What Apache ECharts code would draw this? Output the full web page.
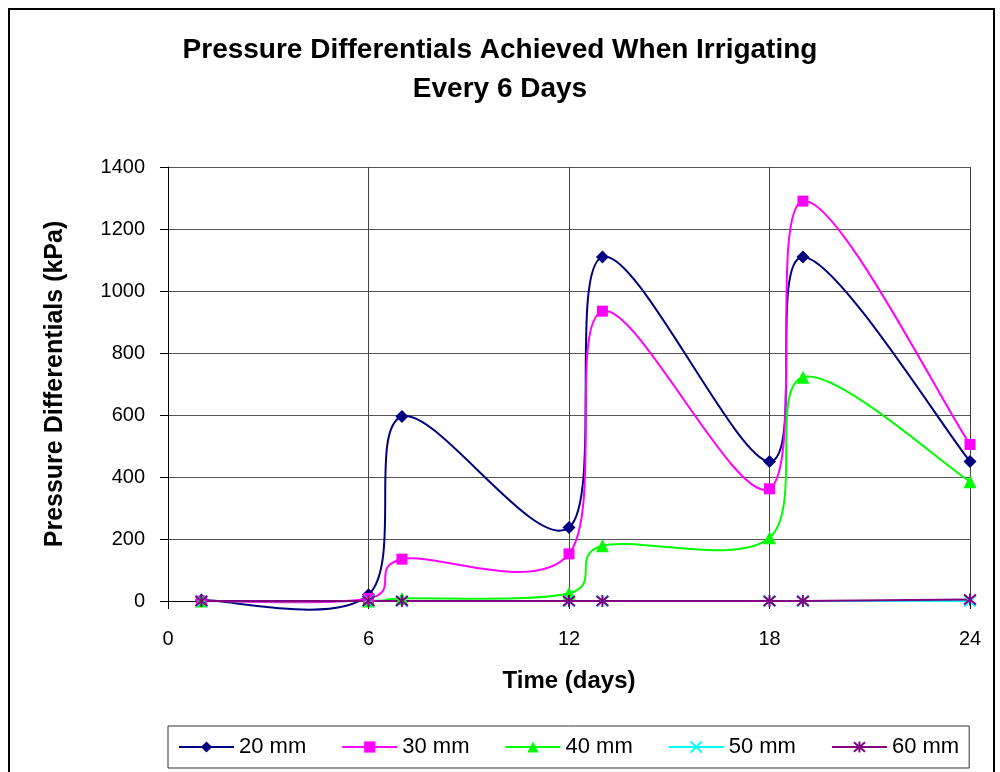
<!DOCTYPE html>
<html>
<head>
<meta charset="utf-8">
<script src="https://cdn.jsdelivr.net/npm/echarts@6/dist/echarts.min.js"></script>
<style>
    html, body { margin: 0; padding: 0; background: #fff; }
    #chart { width: 1000px; height: 772px; }
</style>
</head>
<body>
<div id="chart"></div>
<script>
// days at which the readings were taken
const days = [1, 6, 7, 12, 13, 18, 19, 24];

const seriesNames = ['20 mm', '30 mm', '40 mm', '50 mm', '60 mm'];
const values20 = [3, 20, 595, 237, 1110, 450, 1110, 450];
const values30 = [0, 8, 135, 152, 935, 362, 1290, 505];
const values40 = [0, 0, 8, 25, 178, 204, 722, 385];
const values50 = [0, 0, 0, 0, 0, 0, 0, 0];
const values60 = [0, 0, 0, 0, 0, 0, 0, 5];

const xTicks = { min: 0, max: 24, interval: 6 };
const yTicks = { min: 0, max: 1400, interval: 200 };

const colors = ['#000080', '#ff00ff', '#00ff00', '#00ffff', '#800080'];
const symbols = [
    'diamond',
    'rect',
    'triangle',
    'path://M0,0L10,10M10,0L0,10',
    'path://M0,0L10,10M10,0L0,10M5,-1L5,11'
];
const symbolSizes = [13, 11, 13, 11, 12];

const FONT = 'Liberation Sans, Arial, sans-serif';

function toPairs(vals) {
    return days.map((d, i) => [d, vals[i]]);
}

// spreadsheet style smoothed segment (catmull-rom -> bezier) between point i and i+1
function smoothSegment(vals, color) {
    return function (params, api) {
        let i = params.dataIndex;
        if (i >= days.length - 1) return null;
        let pt = j => api.coord([days[Math.max(0, Math.min(days.length - 1, j))],
                                 vals[Math.max(0, Math.min(days.length - 1, j))]]);
        let p0 = pt(i - 1), p1 = pt(i), p2 = pt(i + 1), p3 = pt(i + 2);
        let k = 1 / 6;
        return {
            type: 'bezierCurve',
            shape: {
                x1: p1[0], y1: p1[1],
                x2: p2[0], y2: p2[1],
                cpx1: p1[0] + (p2[0] - p0[0]) * k,
                cpy1: p1[1] + (p2[1] - p0[1]) * k,
                cpx2: p2[0] - (p3[0] - p1[0]) * k,
                cpy2: p2[1] - (p3[1] - p1[1]) * k
            },
            style: { stroke: color, lineWidth: 2, fill: null },
            silent: true
        };
    };
}

let allValues = [values20, values30, values40, values50, values60];
let series = [];
let legendData = [];
for (let i = 0; i < seriesNames.length; i++) {
    series.push({
        name: seriesNames[i] + ' curve',
        type: 'custom',
        data: toPairs(allValues[i]),
        renderItem: smoothSegment(allValues[i], colors[i]),
        clip: false,
        z: 2 + i * 0.01,
        animation: false
    });
}
for (let i = 0; i < seriesNames.length; i++) {
    let strokeOnly = i >= 3;
    series.push({
        name: seriesNames[i],
        type: 'line',
        data: toPairs(allValues[i]),
        symbol: symbols[i],
        symbolSize: symbolSizes[i],
        showAllSymbol: true,
        lineStyle: { color: colors[i], width: 2, opacity: 0 },
        itemStyle: strokeOnly
            ? { color: colors[i], borderColor: colors[i], borderWidth: 2 }
            : { color: colors[i] },
        z: 3,
        emphasis: { disabled: true },
        animation: false
    });
    legendData.push({
        name: seriesNames[i],
        lineStyle: { color: colors[i], width: 2, opacity: 1 }
    });
}

let chartDom = document.getElementById('chart');
let myChart = echarts.init(chartDom);

let option = {
    animation: false,
    color: colors,
    textStyle: { fontFamily: FONT },
    graphic: [
        {
            type: 'rect',
            shape: { x: 9, y: 9, width: 985, height: 820 },
            style: { fill: 'none', stroke: '#000', lineWidth: 2 },
            silent: true
        }
    ],
    title: {
        text: 'Pressure Differentials Achieved When Irrigating\nEvery 6 Days',
        left: 'center',
        top: 26,
        textStyle: {
            fontFamily: FONT,
            fontSize: 28,
            fontWeight: 'bold',
            color: '#000',
            lineHeight: 39
        }
    },
    grid: {
        left: 168,
        right: 30,
        top: 167,
        bottom: 171
    },
    xAxis: {
        type: 'value',
        min: xTicks.min,
        max: xTicks.max,
        interval: xTicks.interval,
        name: 'Time (days)',
        nameLocation: 'middle',
        nameGap: 68,
        nameTextStyle: { fontFamily: FONT, fontSize: 24, fontWeight: 'bold', color: '#000' },
        axisLine: { show: true, onZero: false, lineStyle: { color: '#000', width: 1 } },
        axisTick: { show: true, length: 8, lineStyle: { color: '#000' } },
        axisLabel: { margin: 28, fontSize: 20, color: '#000', fontFamily: FONT },
        splitLine: { show: true, lineStyle: { color: '#444', width: 1 } }
    },
    yAxis: {
        type: 'value',
        min: yTicks.min,
        max: yTicks.max,
        interval: yTicks.interval,
        name: 'Pressure Differentials (kPa)',
        nameLocation: 'middle',
        nameRotate: 90,
        nameGap: 100,
        nameTextStyle: { fontFamily: FONT, fontSize: 25, fontWeight: 'bold', color: '#000' },
        axisLine: { show: true, lineStyle: { color: '#000', width: 1 } },
        axisTick: { show: true, length: 8, lineStyle: { color: '#000' } },
        axisLabel: {
            margin: 23, fontSize: 20, color: '#000', fontFamily: FONT,
            formatter: v => String(v)
        },
        splitLine: { show: true, lineStyle: { color: '#555', width: 1 } }
    },
    legend: {
        data: legendData,
        left: 168,
        top: 726,
        orient: 'horizontal',
        padding: [10, 10, 10, 10],
        itemWidth: 55,
        itemHeight: 14,
        itemGap: 35,
        borderColor: '#333',
        borderWidth: 1,
        textStyle: { fontFamily: FONT, fontSize: 22, color: '#000' }
    },
    series
};

option && myChart.setOption(option);
</script>
</body>
</html>
